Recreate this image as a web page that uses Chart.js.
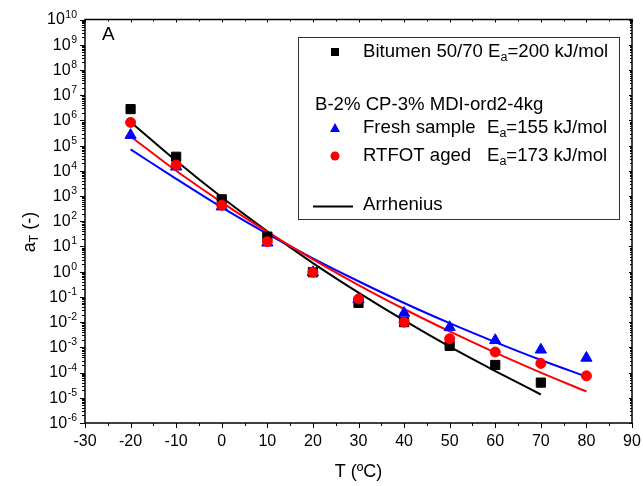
<!DOCTYPE html>
<html><head><meta charset="utf-8">
<script src="https://cdn.jsdelivr.net/npm/chart.js@4/dist/chart.umd.min.js"></script>
<style>html,body{margin:0;padding:0;background:#fff}#wrap{width:643px;height:486px}</style>
</head><body><div id="wrap"><canvas id="c" width="643" height="486"></canvas></div>
<script>
// ---- data ----
const tempsBitumen = [-20, -10, 0, 10, 20, 30, 40, 50, 60, 70];
const tempsBinder  = [-20, -10, 0, 10, 20, 30, 40, 50, 60, 70, 80];
const bitumen = [2.8e6, 3.6e4, 740, 24.5, 0.95, 0.058, 0.010, 1.15e-3, 2.0e-4, 4.0e-5];
const fresh   = [2.6e5, 1.45e4, 380, 14, 0.95, 0.08, 0.023, 6.2e-3, 1.9e-3, 8.0e-4, 3.8e-4];
const aged    = [8.3e5, 1.7e4, 430, 15.5, 0.95, 0.083, 0.010, 2.2e-3, 6.5e-4, 2.3e-4, 7.4e-5];
const bitumenFit = [8.7e5, 2.5e4, 890, 40, 2.2, 0.148, 0.0117, 1.07e-3, 1.15e-4, 1.35e-5];
const freshFit   = [7.1e4, 4.8e3, 355, 31.6, 3.4, 0.417, 0.0575, 9.1e-3, 1.62e-3, 3.16e-4, 6.9e-5];
const agedFit    = [2.3e5, 1.0e4, 562, 38, 3.1, 0.295, 0.0331, 4.27e-3, 6.2e-4, 1.0e-4, 1.78e-5];
const xTickLabels = [-30, -20, -10, 0, 10, 20, 30, 40, 50, 60, 70, 80, 90];
const yExponents = [-6, -5, -4, -3, -2, -1, 0, 1, 2, 3, 4, 5, 6, 7, 8, 9, 10];

const FONT = 'Arial, "Liberation Sans", Helvetica, sans-serif';
const LF = '18.6px ';
const pts = (xs, ys) => xs.map((t, i) => ({x: t, y: ys[i]}));

const axesPlugin = {
  id: 'axesPlugin',
  afterDraw(chart) {
    const {ctx, chartArea: a, scales: {x, y}} = chart;
    ctx.save();
    ctx.strokeStyle = '#000';
    ctx.fillStyle = '#000';
    // frame
    ctx.lineWidth = 1.5;
    ctx.strokeRect(a.left, a.top, a.right - a.left, a.bottom - a.top);
    ctx.lineWidth = 1;
    ctx.beginPath();
    // x ticks
    for (let t = -30; t <= 90; t += 5) {
      const px = Math.round(x.getPixelForValue(t)) + 0.5;
      const major = t % 10 === 0;
      ctx.moveTo(px, a.bottom); ctx.lineTo(px, a.bottom + (major ? 5 : 3));
      ctx.moveTo(px, a.top); ctx.lineTo(px, a.top + (major ? 3 : 2));
    }
    // y ticks
    yExponents.forEach(e => {
      const py = Math.round(y.getPixelForValue(Math.pow(10, e))) + 0.5;
      ctx.moveTo(a.left, py); ctx.lineTo(a.left - 5, py);
      ctx.moveTo(a.right, py); ctx.lineTo(a.right - 3, py);
      if (e < 10) {
        for (let k = 2; k <= 9; k++) {
          const pm = Math.round(y.getPixelForValue(k * Math.pow(10, e))) + 0.5;
          ctx.moveTo(a.left, pm); ctx.lineTo(a.left - 3, pm);
          ctx.moveTo(a.right, pm); ctx.lineTo(a.right - 2, pm);
        }
      }
    });
    ctx.stroke();

    // x tick labels
    ctx.font = '16px ' + FONT;
    ctx.textAlign = 'center';
    ctx.textBaseline = 'middle';
    xTickLabels.forEach(t => {
      ctx.fillText(String(t), x.getPixelForValue(t), 442);
    });
    // y tick labels 10^n
    yExponents.forEach(e => {
      const py = y.getPixelForValue(Math.pow(10, e));
      const right = 77;
      ctx.font = '10.5px ' + FONT;
      const es = String(e);
      const we = ctx.measureText(es).width;
      ctx.textAlign = 'left';
      ctx.textBaseline = 'alphabetic';
      ctx.fillText(es, right - we, py - 2);
      ctx.font = '16px ' + FONT;
      ctx.textAlign = 'right';
      ctx.textBaseline = 'middle';
      ctx.fillText('10', right - we - 0.5, py + 0.5);
    });

    // axis titles
    ctx.font = '18px ' + FONT;
    ctx.textAlign = 'center';
    ctx.textBaseline = 'middle';
    ctx.fillText('T (\u00baC)', (a.left + a.right) / 2, 472);

    // y title rotated: a_T (-)
    ctx.save();
    ctx.translate(30, 232);
    ctx.rotate(-Math.PI / 2);
    ctx.textBaseline = 'middle';
    ctx.textAlign = 'left';
    ctx.font = '18px ' + FONT;
    const wa = ctx.measureText('a').width;
    ctx.font = '12px ' + FONT;
    const wT = ctx.measureText('T').width;
    ctx.font = '18px ' + FONT;
    const wr = ctx.measureText(' (-)').width;
    const total = wa + wT + wr;
    let cx = -total / 2;
    ctx.fillText('a', cx, 0); cx += wa;
    ctx.font = '12px ' + FONT;
    ctx.fillText('T', cx, 5); cx += wT;
    ctx.font = '18px ' + FONT;
    ctx.fillText(' (-)', cx, 0);
    ctx.restore();

    // panel letter
    ctx.font = '19px ' + FONT;
    ctx.textAlign = 'left';
    ctx.textBaseline = 'middle';
    ctx.fillText('A', 102, 35);

    // legend box
    ctx.lineWidth = 1;
    ctx.strokeStyle = '#333';
    ctx.strokeRect(298.5, 37.5, 321, 182);
    const tx = 363, mx = 335, ex = 487;
    ctx.font = LF + FONT;
    ctx.textBaseline = 'middle';
    function subText(parts, x0, yy) {
      let cx = x0;
      parts.forEach(p => {
        if (p.sub) {
          ctx.font = '12.5px ' + FONT;
          ctx.fillText(p.t, cx, yy + 6);
        } else {
          ctx.font = LF + FONT;
          ctx.fillText(p.t, cx, yy);
        }
        cx += ctx.measureText(p.t).width;
      });
    }
    // row 1
    ctx.fillStyle = '#000';
    ctx.fillRect(mx - 4, 52 - 4, 8, 8);
    subText([{t: 'Bitumen 50/70 E'}, {t: 'a', sub: true}, {t: '=200 kJ/mol'}], tx, 52);
    // row 2
    ctx.font = LF + FONT;
    ctx.fillText('B-2% CP-3% MDI-ord2-4kg', 315, 105);
    // row 3
    ctx.fillStyle = '#0000ff';
    ctx.beginPath();
    ctx.moveTo(mx, 128 - 5); ctx.lineTo(mx + 5, 128 + 4); ctx.lineTo(mx - 5, 128 + 4); ctx.closePath();
    ctx.fill();
    ctx.fillStyle = '#000';
    ctx.font = LF + FONT;
    ctx.fillText('Fresh sample', tx, 128);
    subText([{t: 'E'}, {t: 'a', sub: true}, {t: '=155 kJ/mol'}], ex, 128);
    // row 4
    ctx.fillStyle = '#ff0000';
    ctx.beginPath(); ctx.arc(mx, 156, 4.5, 0, Math.PI * 2); ctx.fill();
    ctx.fillStyle = '#000';
    ctx.font = LF + FONT;
    ctx.fillText('RTFOT aged', tx, 156);
    subText([{t: 'E'}, {t: 'a', sub: true}, {t: '=173 kJ/mol'}], ex, 156);
    // row 5
    ctx.strokeStyle = '#000';
    ctx.lineWidth = 2;
    ctx.beginPath(); ctx.moveTo(313, 206.5); ctx.lineTo(353, 206.5); ctx.stroke();
    ctx.font = LF + FONT;
    ctx.fillText('Arrhenius', tx, 205);
    ctx.restore();
  }
};

new Chart(document.getElementById('c'), {
  type: 'scatter',
  data: {
    datasets: [
      {label: 'Bitumen fit', data: pts(tempsBitumen, bitumenFit), showLine: true, borderColor: '#000', borderWidth: 2, pointRadius: 0, cubicInterpolationMode: 'monotone', order: 10},
      {label: 'Fresh fit', data: pts(tempsBinder, freshFit), showLine: true, borderColor: '#0000ff', borderWidth: 2, pointRadius: 0, cubicInterpolationMode: 'monotone', order: 9},
      {label: 'Aged fit', data: pts(tempsBinder, agedFit), showLine: true, borderColor: '#ff0000', borderWidth: 2, pointRadius: 0, cubicInterpolationMode: 'monotone', order: 8},
      {label: 'Bitumen 50/70', data: pts(tempsBitumen, bitumen), pointStyle: 'rect', pointRadius: 6.5, backgroundColor: '#000', borderColor: '#000', borderWidth: 1, order: 3},
      {label: 'Fresh sample', data: pts(tempsBinder, fresh), pointStyle: 'triangle', pointRadius: 6.5, backgroundColor: '#0000ff', borderColor: '#0000ff', borderWidth: 1, order: 2},
      {label: 'RTFOT aged', data: pts(tempsBinder, aged), pointStyle: 'circle', pointRadius: 5, backgroundColor: '#ff0000', borderColor: '#ff0000', borderWidth: 1, order: 1}
    ]
  },
  options: {
    responsive: false,
    animation: false,
    layout: {padding: {top: 19.5, right: 11, left: 0, bottom: 0}},
    plugins: {legend: {display: false}, tooltip: {enabled: false}},
    scales: {
      x: {type: 'linear', min: -30, max: 90,
          grid: {display: false, drawTicks: false}, border: {display: false},
          ticks: {display: false}, afterFit(s) { s.height = 63; }},
      y: {type: 'logarithmic', min: 1e-6, max: 1e10,
          grid: {display: false, drawTicks: false}, border: {display: false},
          ticks: {display: false}, afterFit(s) { s.width = 85; }}
    }
  },
  plugins: [axesPlugin]
});
</script>
</body></html>
